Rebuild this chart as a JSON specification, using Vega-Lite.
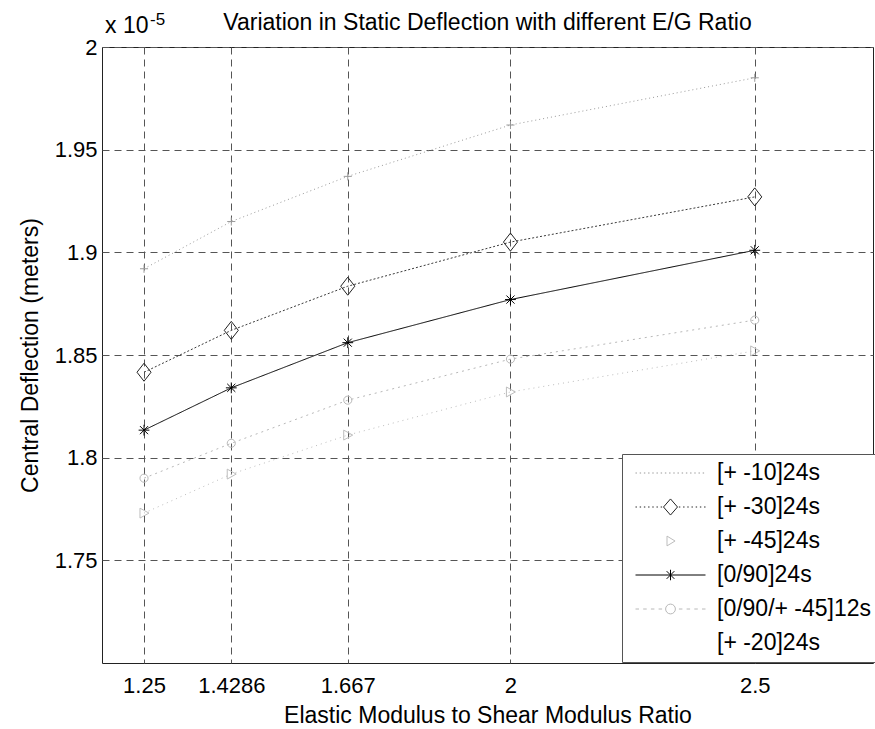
{
  "$schema": "https://vega.github.io/schema/vega-lite/v6.json",
  "width": 771,
  "height": 616,
  "autosize": {"type": "none"},
  "padding": {"left": 102, "top": 47, "right": 2, "bottom": 66},
  "background": "#ffffff",
  "config": {
    "font": "Liberation Sans",
    "view": {"stroke": "#222", "strokeWidth": 1},
    "axis": {"domain": false, "ticks": false, "gridColor": "#555", "gridDash": [7, 5], "gridWidth": 1, "gridOpacity": 1, "labelColor": "#000", "titleColor": "#000", "labelFont": "Liberation Sans", "titleFont": "Liberation Sans", "titleFontWeight": "normal", "labelFontSize": 22, "titleFontSize": 23},
    "title": {"font": "Liberation Sans", "fontSize": 23, "fontWeight": "normal", "color": "#000"}
  },
  "title": {"text": "Variation in Static Deflection with different E/G Ratio", "anchor": "middle", "baseline": "alphabetic", "offset": -42},
  "data": {"values": [
    {"s": "[+ -10]24s", "r": 1.25, "d": 1.892},
    {"s": "[+ -10]24s", "r": 1.4286, "d": 1.915},
    {"s": "[+ -10]24s", "r": 1.667, "d": 1.937},
    {"s": "[+ -10]24s", "r": 2, "d": 1.962},
    {"s": "[+ -10]24s", "r": 2.5, "d": 1.985},
    {"s": "[+ -30]24s", "r": 1.25, "d": 1.8416},
    {"s": "[+ -30]24s", "r": 1.4286, "d": 1.862},
    {"s": "[+ -30]24s", "r": 1.667, "d": 1.8835},
    {"s": "[+ -30]24s", "r": 2, "d": 1.905},
    {"s": "[+ -30]24s", "r": 2.5, "d": 1.927},
    {"s": "[+ -45]24s", "r": 1.25, "d": 1.773},
    {"s": "[+ -45]24s", "r": 1.4286, "d": 1.792},
    {"s": "[+ -45]24s", "r": 1.667, "d": 1.811},
    {"s": "[+ -45]24s", "r": 2, "d": 1.832},
    {"s": "[+ -45]24s", "r": 2.5, "d": 1.852},
    {"s": "[0/90]24s", "r": 1.25, "d": 1.8134},
    {"s": "[0/90]24s", "r": 1.4286, "d": 1.834},
    {"s": "[0/90]24s", "r": 1.667, "d": 1.856},
    {"s": "[0/90]24s", "r": 2, "d": 1.877},
    {"s": "[0/90]24s", "r": 2.5, "d": 1.901},
    {"s": "[0/90/+ -45]12s", "r": 1.25, "d": 1.790},
    {"s": "[0/90/+ -45]12s", "r": 1.4286, "d": 1.807},
    {"s": "[0/90/+ -45]12s", "r": 1.667, "d": 1.828},
    {"s": "[0/90/+ -45]12s", "r": 2, "d": 1.848},
    {"s": "[0/90/+ -45]12s", "r": 2.5, "d": 1.867}
  ]},
  "encoding": {
    "x": {"field": "r", "type": "quantitative", "scale": {"domain": [1.164, 2.742], "nice": false, "zero": false},
      "axis": {"values": [1.25, 1.4286, 1.667, 2, 2.5], "labelExpr": "format(datum.value, '.6~g')", "labelPadding": 12, "titlePadding": 8, "grid": true, "labelFlush": false},
      "title": "Elastic Modulus to Shear Modulus Ratio"},
    "y": {"field": "d", "type": "quantitative", "scale": {"domain": [1.7, 2.0], "nice": false, "zero": false},
      "axis": {"values": [1.75, 1.8, 1.85, 1.9, 1.95, 2], "labelExpr": "format(datum.value, '.6~g')", "labelPadding": 5, "titlePadding": 12, "grid": true, "labelFlush": false},
      "title": "Central Deflection (meters)"}
  },
  "layer": [
    {
      "mark": {"type": "line", "strokeWidth": 1},
      "encoding": {
        "color": {"field": "s", "type": "nominal", "legend": null,
          "scale": {"domain": ["[+ -10]24s", "[+ -30]24s", "[+ -45]24s", "[0/90]24s", "[0/90/+ -45]12s", "[+ -20]24s"],
                    "range": ["#999999", "#3a3a3a", "#bdbdbd", "#000000", "#b8b8b8", "transparent"]}},
        "strokeDash": {"field": "s", "type": "nominal", "legend": null,
          "scale": {"domain": ["[+ -10]24s", "[+ -30]24s", "[+ -45]24s", "[0/90]24s", "[0/90/+ -45]12s", "[+ -20]24s"],
                    "range": [[1, 3], [2, 2], [1, 4], [1, 0], [2, 4], [1, 0]]}}
      }
    },
    {
      "mark": {"type": "point", "filled": false, "strokeWidth": 1, "size": 324, "opacity": 1},
      "encoding": {
        "color": {"field": "s", "type": "nominal", "legend": null,
          "scale": {"domain": ["[+ -10]24s", "[+ -30]24s", "[+ -45]24s", "[0/90]24s", "[0/90/+ -45]12s", "[+ -20]24s"],
                    "range": ["#999999", "#222222", "#bdbdbd", "#000000", "#b8b8b8", "transparent"]}},
        "shape": {"field": "s", "type": "nominal", "legend": null,
          "scale": {"domain": ["[+ -10]24s", "[+ -30]24s", "[+ -45]24s", "[0/90]24s", "[0/90/+ -45]12s", "[+ -20]24s"],
                    "range": ["M-0.45,0H0.45M0,-0.45V0.45", "M0,-1L0.78,0L0,1L-0.78,0Z", "M-0.45,-0.55L0.55,0L-0.45,0.55Z", "M0,-0.6V0.6M-0.6,0H0.6M-0.45,-0.45L0.45,0.45M-0.45,0.45L0.45,-0.45", "M0.45,0A0.45,0.45 0 1,1 -0.45,0A0.45,0.45 0 1,1 0.45,0Z", "M-0.3,0H0.3"]}}
      }
    },
    {
      "mark": {"type": "point", "filled": false, "strokeWidth": 1, "size": 4900, "opacity": 0},
      "encoding": {
        "color": {"field": "s", "type": "nominal",
          "scale": {"domain": ["[+ -10]24s", "[+ -30]24s", "[+ -45]24s", "[0/90]24s", "[0/90/+ -45]12s", "[+ -20]24s"],
                    "range": ["#999999", "#222222", "#bdbdbd", "#000000", "#b8b8b8", "transparent"]},
          "legend": {"title": null, "orient": "none", "legendX": 520, "legendY": 407, "padding": 7, "fillColor": "#ffffff", "strokeColor": "#555555", "labelFontSize": 23, "labelFont": "Liberation Sans", "labelColor": "#000", "symbolSize": 4900, "symbolStrokeWidth": 1, "symbolOpacity": 1, "clipHeight": 24, "rowPadding": 10, "labelOffset": 11, "symbolOffset": 6, "labelLimit": 400}},
        "shape": {"field": "s", "type": "nominal",
          "scale": {"domain": ["[+ -10]24s", "[+ -30]24s", "[+ -45]24s", "[0/90]24s", "[0/90/+ -45]12s", "[+ -20]24s"],
                    "range": [
                      "M-1,0h0.04m0.08,0h0.04m0.08,0h0.04m0.08,0h0.04m0.08,0h0.04m0.08,0h0.04m0.08,0h0.04m0.08,0h0.04m0.08,0h0.04m0.08,0h0.04m0.08,0h0.04m0.08,0h0.04m0.08,0h0.04m0.08,0h0.04m0.08,0h0.04m0.08,0h0.04m0.08,0h0.04",
                      "M-1,0h0.04m0.08,0h0.04m0.08,0h0.04m0.08,0h0.04m0.08,0h0.04m0.08,0h0.04m0.08,0h0.04M0,-0.23L0.2,0L0,0.23L-0.2,0ZM0.24,0h0.04m0.08,0h0.04m0.08,0h0.04m0.08,0h0.04m0.08,0h0.04m0.08,0h0.04m0.08,0h0.04",
                      "M-0.1,-0.14L0.13,0L-0.1,0.14Z",
                      "M-1,0H1M0,-0.15V0.15M-0.11,-0.11L0.11,0.11M-0.11,0.11L0.11,-0.11",
                      "M-1,0h0.1m0.12,0h0.1m0.12,0h0.1m0.12,0h0.1M0.14,0A0.14,0.14 0 1,1 -0.14,0A0.14,0.14 0 1,1 0.14,0ZM0.24,0h0.1m0.12,0h0.1m0.12,0h0.1m0.12,0h0.1",
                      "M-1,0H1"
                    ]}}
      }
    },
    {
      "data": {"values": [{"t": "x 10", "r": 1.164, "d": 2.0}]},
      "mark": {"type": "text", "align": "left", "baseline": "alphabetic", "fontSize": 23, "dx": 3, "dy": -14, "color": "#000"},
      "encoding": {"text": {"field": "t"}}
    },
    {
      "data": {"values": [{"t": "-5", "r": 1.164, "d": 2.0}]},
      "mark": {"type": "text", "align": "left", "baseline": "alphabetic", "fontSize": 17, "dx": 48, "dy": -22, "color": "#000"},
      "encoding": {"text": {"field": "t"}}
    }
  ],
  "resolve": {"scale": {"color": "independent", "shape": "independent"}}
}
